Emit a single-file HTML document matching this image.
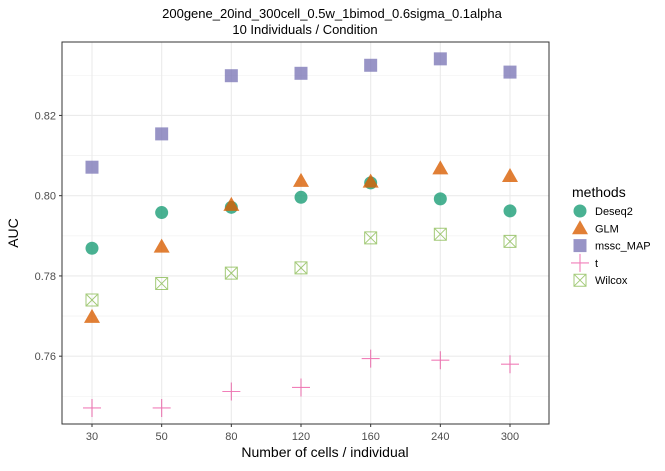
<!DOCTYPE html>
<html><head><meta charset="utf-8"><style>
body{margin:0;background:#fff;font-family:"Liberation Sans",Arial,sans-serif}
text{font-family:"Liberation Sans",Arial,sans-serif}
</style></head><body>
<svg id="chart" width="665" height="466" xmlns="http://www.w3.org/2000/svg">
<text x="332" y="18" text-anchor="middle" font-size="13" fill="#000">200gene_20ind_300cell_0.5w_1bimod_0.6sigma_0.1alpha</text>
<text x="305" y="34" text-anchor="middle" font-size="13" fill="#000">10 Individuals / Condition</text>
<g id="grid"></g>
<rect x="62" y="42" width="487" height="382" fill="none" stroke="#333" stroke-width="1"/>
<g id="axes"></g>
<g id="marks"></g>
<text x="325" y="457" text-anchor="middle" font-size="14">Number of cells / individual</text>
<text transform="translate(18,233) rotate(-90)" text-anchor="middle" font-size="14">AUC</text>
<g id="legend">
<text x="572" y="197" font-size="14">methods</text>
</g>
</svg>
<script>
const categories=["30","50","80","120","160","240","300"];
const deseq2=[0.7869,0.7958,0.7971,0.7996,0.8032,0.7992,0.7962];
const glm=[0.7698,0.7873,0.7977,0.8037,0.8035,0.8068,0.8049];
const mssc=[0.8071,0.8154,0.8299,0.8305,0.8325,0.8341,0.8308];
const tvals=[0.7471,0.7471,0.7512,0.7522,0.7594,0.7590,0.7580];
const wilcox=[0.7740,0.7781,0.7807,0.7820,0.7895,0.7904,0.7886];
const yTicks=[0.76,0.78,0.80,0.82];
const yTickLabels=["0.76","0.78","0.80","0.82"];
const NS="http://www.w3.org/2000/svg";
const X0=62,X1=549,Y0=42,Y1=424;
const yMin=0.7431,yMax=0.8383;
function xs(i){return 92+i*(510-92)/(categories.length-1);}
function ys(v){return Y1-(v-yMin)/(yMax-yMin)*(Y1-Y0);}
function mk(tag,attrs,parent){const e=document.createElementNS(NS,tag);for(const k in attrs)e.setAttribute(k,attrs[k]);parent.appendChild(e);return e;}
const grid=document.getElementById('grid'),axes=document.getElementById('axes'),marks=document.getElementById('marks'),legend=document.getElementById('legend');
// minor grid
for(let i=0;i<yTicks.length;i++){for(const off of [-0.01,0.01]){const v=yTicks[i]+off;if(v>yMin&&v<yMax){const l=mk('line',{x1:X0,x2:X1,y1:ys(v),y2:ys(v),stroke:'#f2f2f2','stroke-width':0.6},grid);

}}}
yTicks.forEach((v,i)=>{const l=mk('line',{x1:X0,x2:X1,y1:ys(v),y2:ys(v),stroke:'#ebebeb','stroke-width':1.1},grid);


const tk=mk('line',{x1:X0-3,x2:X0,y1:ys(v),y2:ys(v),stroke:'#333'},axes);


const t=mk('text',{x:X0-6,y:ys(v)+4,'text-anchor':'end','font-size':11,fill:'#4d4d4d'},axes);t.textContent=yTickLabels[i];

});
categories.forEach((c,i)=>{const l=mk('line',{x1:xs(i),x2:xs(i),y1:Y0,y2:Y1,stroke:'#ebebeb','stroke-width':1.1},grid);


const tk=mk('line',{x1:xs(i),x2:xs(i),y1:Y1,y2:Y1+3,stroke:'#333'},axes);


const t=mk('text',{x:xs(i),y:Y1+16,'text-anchor':'middle','font-size':11,fill:'#4d4d4d'},axes);t.textContent=c;

});
function circle(x,y,p){return mk('circle',{cx:x,cy:y,r:6.5,fill:'#1b9e77','fill-opacity':0.8},p);}
function tri(x,y,p){return mk('polygon',{points:`${x-8},${y+6} ${x+8},${y+6} ${x},${y-8}`,fill:'#d95f02','fill-opacity':0.8},p);}
function sq(x,y,p){return mk('rect',{x:x-6.5,y:y-6.5,width:13,height:13,fill:'#7570b3','fill-opacity':0.75},p);}
function plus(x,y,p){return mk('path',{d:`M${x-9},${y}H${x+9}M${x},${y-9}V${y+9}`,stroke:'#e7298a','stroke-opacity':0.6,'stroke-width':1.1,fill:'none'},p);}
function wbox(x,y,p){return mk('path',{d:`M${x-6},${y-6}h12v12h-12zM${x-6},${y-6}L${x+6},${y+6}M${x+6},${y-6}L${x-6},${y+6}`,stroke:'#66a61e','stroke-opacity':0.6,'stroke-width':1,fill:'none'},p);}
const series=[["deseq2",deseq2,circle],["glm",glm,tri],["mssc-map",mssc,sq],["t",tvals,plus],["wilcox",wilcox,wbox]];
series.forEach(([nm,vals,f])=>{vals.forEach((v,i)=>{const e=f(xs(i),ys(v),marks);

});});
const labels=["Deseq2","GLM","mssc_MAP","t","Wilcox"];
series.forEach(([nm,vals,f],i)=>{const y=211+i*17.3;const e=f(580,y,legend);


const t=mk('text',{x:595,y:y+4,'font-size':11,fill:'#000'},legend);t.textContent=labels[i];

});
</script>
</body></html>
